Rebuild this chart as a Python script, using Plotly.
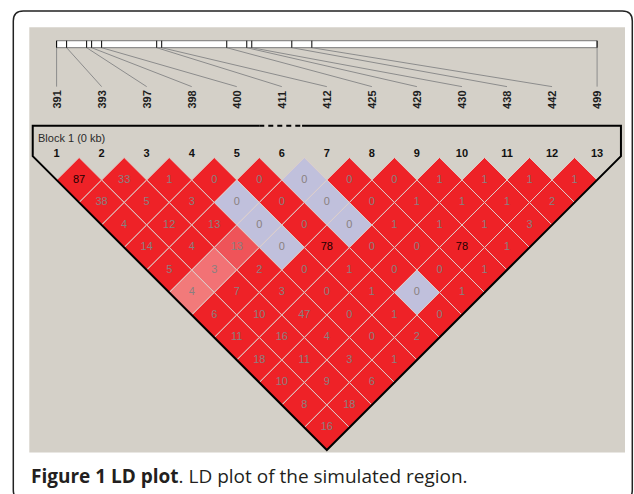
import plotly.graph_objects as go

W, H = 634, 494

# ---- data -------------------------------------------------------------
marker_ids = list(range(1, 14))
positions = [391, 393, 397, 398, 400, 411, 412, 425, 429, 430, 438, 442, 499]

# pairwise LD values, row r holds pairs (i, i + r) for i = 1..13-r
ld_rows = [
    [87, 33, 1, 0, 0, 0, 0, 0, 1, 1, 1, 1],
    [38, 5, 3, 0, 0, 0, 0, 1, 1, 1, 2],
    [4, 12, 13, 0, 0, 0, 1, 1, 1, 3],
    [14, 4, 13, 0, 78, 0, 0, 78, 1],
    [5, 3, 2, 0, 1, 0, 0, 1],
    [4, 7, 3, 0, 1, 0, 1],
    [6, 10, 47, 0, 1, 0],
    [11, 16, 4, 0, 2],
    [18, 11, 3, 1],
    [10, 9, 6],
    [8, 18],
    [16],
]

# colour class per cell: r strong LD, b weak evidence, P/Q/S partial LD
cell_class = [
    "rrrrrbrrrrrr",
    "rrrbrbrrrrr",
    "rrrbrbrrrr",
    "rrPbrrrrr",
    "rQrrrrrr",
    "Srrrrbr",
    "rrrrrr",
    "rrrrr",
    "rrrr",
    "rrr",
    "rr",
    "r",
]
dark_label_pairs = [(1, 2), (5, 9), (8, 12)]

block_title = "Block 1 (0 kb)"
caption_bold = "Figure 1 LD plot"
caption_rest = ". LD plot of the simulated region."

# ---- styling ----------------------------------------------------------
fill_colors = {
    "r": "#ee2227",
    "b": "#c0c0dc",
    "P": "#ef5459",
    "Q": "#f27275",
    "S": "#f27a7a",
}
PANEL = "#d4d0c8"
EDGE = "rgb(222,208,204)"
NUM_FONT = "Arial, Liberation Sans, sans-serif"

# axis scaling: one x unit per marker, one y unit per half cell
U0, DU = 56.6, 45.04
V0, DV = 180.0, 22.5
x_range = [1 - U0 / DU, 1 + (W - U0) / DU]
y_range = [1 + (H - V0) / DV, 1 - V0 / DV]

# vertical layout levels (data units)
BAR_TOP, BAR_BOT = -5.19, -4.88
LABEL_TOP, LABEL_Y = -3.15, -2.56
BLOCK_LINE, BLOCK_TEXT_Y, NUM_Y = -1.41, -0.85, -0.16
PAD = 0.53

n = len(marker_ids)
span = positions[-1] - positions[0]
tick_u = [1 + (n - 1) * (p - positions[0]) / span for p in positions]

fig = go.Figure()

# ---- LD cells ----------------------------------------------------------
for r, (vals, kinds) in enumerate(zip(ld_rows, cell_class), start=1):
    for k, (val, kind) in enumerate(zip(vals, kinds), start=1):
        i, j = k, k + r
        cu, cv = (i + j) / 2, j - i
        fig.add_trace(go.Scatter(
            x=[cu, cu + 0.5, cu, cu - 0.5, cu],
            y=[cv - 1, cv, cv + 1, cv, cv - 1],
            mode="lines", fill="toself", fillcolor=fill_colors[kind],
            line=dict(color=EDGE, width=1), hoverinfo="skip",
        ))

gray_x, gray_y, gray_t, dark_x, dark_y, dark_t = [], [], [], [], [], []
for r, vals in enumerate(ld_rows, start=1):
    for k, val in enumerate(vals, start=1):
        i, j = k, k + r
        if (i, j) in dark_label_pairs:
            dark_x.append((i + j) / 2); dark_y.append(j - i); dark_t.append(str(val))
        else:
            gray_x.append((i + j) / 2); gray_y.append(j - i); gray_t.append(str(val))
fig.add_trace(go.Scatter(x=gray_x, y=gray_y, text=gray_t, mode="text",
                         textfont=dict(family=NUM_FONT, size=11, color="#8a8080"),
                         hoverinfo="skip"))
fig.add_trace(go.Scatter(x=dark_x, y=dark_y, text=dark_t, mode="text",
                         textfont=dict(family=NUM_FONT, size=11, color="#1a0000"),
                         hoverinfo="skip"))

# ---- block outline -------------------------------------------------------
u_left, u_right = 1 - PAD, n + PAD
v_left = 1 - 2 * PAD
v_right = 1 - 2 * PAD
apex_u, apex_v = (1 + n) / 2, n
dash_a, dash_b = 5.5, 6.45
fig.add_trace(go.Scatter(
    x=[dash_a, u_left, u_left, apex_u, u_right, u_right, dash_b],
    y=[BLOCK_LINE, BLOCK_LINE, v_left, apex_v, v_right, BLOCK_LINE, BLOCK_LINE],
    mode="lines", line=dict(color="black", width=2), hoverinfo="skip"))
fig.add_trace(go.Scatter(
    x=[dash_a, dash_b], y=[BLOCK_LINE, BLOCK_LINE], mode="lines",
    line=dict(color="black", width=2, dash="5px,4px"), hoverinfo="skip"))

# ---- physical map bar, ticks and connectors ------------------------------
bx = [1, n, n, 1, 1]
by = [BAR_TOP, BAR_TOP, BAR_BOT, BAR_BOT, BAR_TOP]
fig.add_trace(go.Scatter(x=bx, y=by, mode="lines", fill="toself", fillcolor="white",
                         line=dict(color="#777777", width=1), hoverinfo="skip"))
cx, cy = [], []
for k, tu in zip(marker_ids, tick_u):
    cx += [tu, k, None]
    cy += [BAR_BOT, LABEL_TOP, None]
fig.add_trace(go.Scatter(x=cx, y=cy, mode="lines",
                         line=dict(color="#8c8c8c", width=1), hoverinfo="skip"))
tx, ty = [], []
for tu in tick_u:
    tx += [tu, tu, None]
    ty += [BAR_TOP, BAR_BOT, None]
fig.add_trace(go.Scatter(x=tx, y=ty, mode="lines",
                         line=dict(color="black", width=1), hoverinfo="skip"))

annotations = []
for k, p in zip(marker_ids, positions):
    annotations.append(dict(x=k, y=LABEL_Y, xref="x", yref="y", text=f"<b>{p}</b>",
                            textangle=-90, showarrow=False,
                            font=dict(family=NUM_FONT, size=11, color="#1e1e1e")))
fig.add_trace(go.Scatter(x=marker_ids, y=[NUM_Y] * n,
                         text=[f"<b>{m}</b>" for m in marker_ids], mode="text",
                         textfont=dict(family=NUM_FONT, size=11, color="#111111"),
                         hoverinfo="skip"))
annotations.append(dict(x=1 + (36 - U0) / DU, y=BLOCK_TEXT_Y, xref="x", yref="y",
                        text=block_title, showarrow=False, xanchor="left",
                        font=dict(family=NUM_FONT, size=11, color="#2a2a2a")))

# ---- frame, panel and caption -------------------------------------------
def px(x):
    return x / W

def py(y):
    return 1 - y / H

shapes = [
    dict(type="rect", xref="paper", yref="paper", layer="below",
         x0=px(29.3), x1=px(625), y0=py(27.3), y1=py(452.5),
         fillcolor=PANEL, line=dict(width=0)),
]
L, T, R, B, RAD = 13.3, 11.0, 632.3, 500.0, 10.0
frame_path = (
    f"M {px(L)} {py(T + RAD)} Q {px(L)} {py(T)} {px(L + RAD)} {py(T)} "
    f"L {px(R - RAD)} {py(T)} Q {px(R)} {py(T)} {px(R)} {py(T + RAD)} "
    f"L {px(R)} {py(B - RAD)} Q {px(R)} {py(B)} {px(R - RAD)} {py(B)} "
    f"L {px(L + RAD)} {py(B)} Q {px(L)} {py(B)} {px(L)} {py(B - RAD)} Z"
)
shapes.append(dict(type="path", xref="paper", yref="paper", path=frame_path,
                   layer="below", line=dict(color="#222222", width=1.5)))

annotations.append(dict(x=px(29.3), y=py(476), xref="paper", yref="paper",
                        xanchor="left", yanchor="middle", showarrow=False,
                        text=f"<b>{caption_bold}</b>{caption_rest}",
                        font=dict(family="Open Sans", size=19, color="#231f20")))

fig.update_layout(
    width=W, height=H, margin=dict(l=0, r=0, t=0, b=0),
    paper_bgcolor="white", plot_bgcolor="rgba(0,0,0,0)",
    showlegend=False, hovermode=False,
    xaxis=dict(range=x_range, visible=False, fixedrange=True),
    yaxis=dict(range=y_range, visible=False, fixedrange=True),
    shapes=shapes,
    annotations=annotations,
)

fig.write_html("out.html")
